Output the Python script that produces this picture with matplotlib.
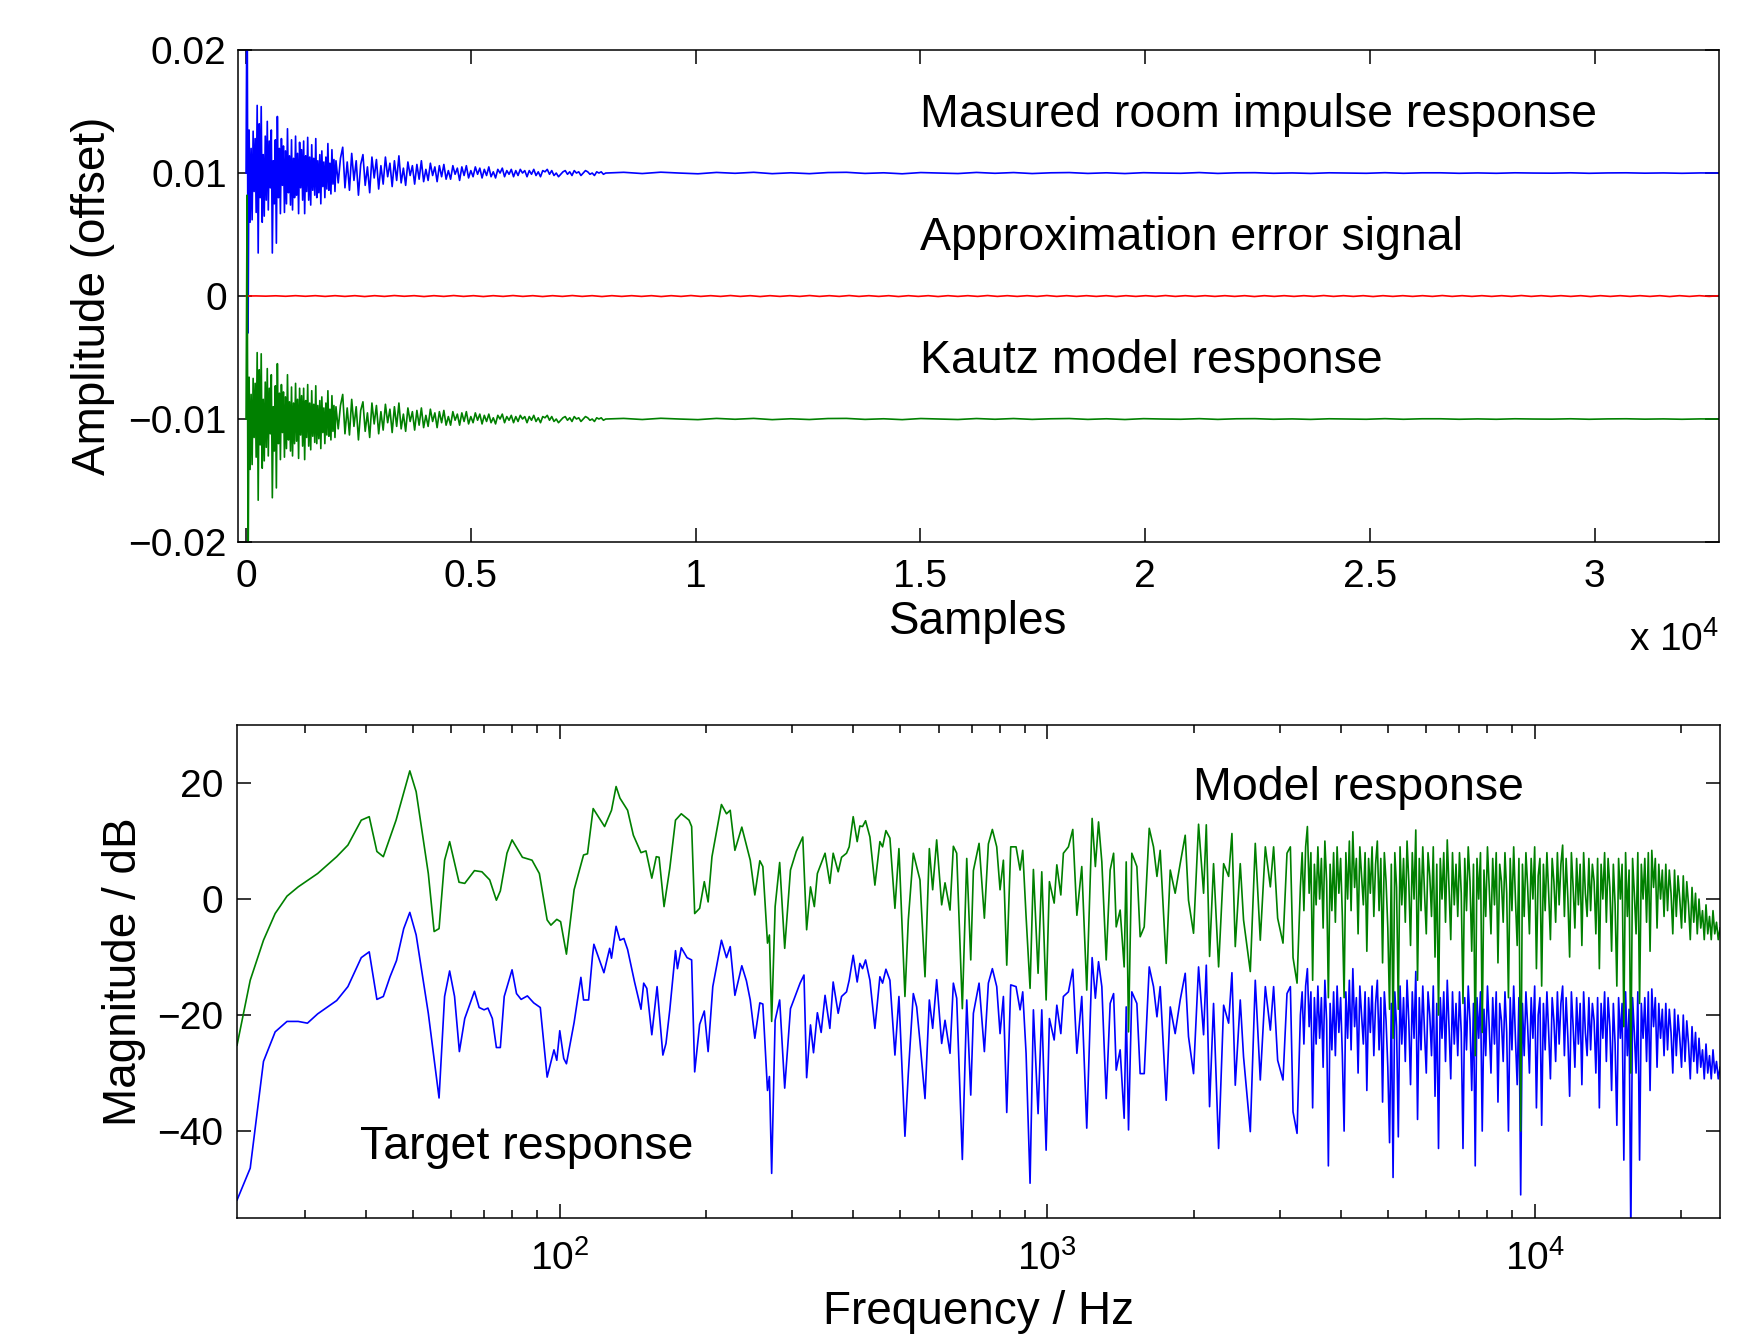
"""
Room impulse response vs. Kautz model: time signals (offset) and magnitude responses.
"""
import numpy as np
import matplotlib
matplotlib.use("Agg")
import matplotlib.pyplot as plt
from matplotlib.ticker import FuncFormatter, LogLocator, NullFormatter

plt.rcParams["font.family"] = ["Liberation Sans", "DejaVu Sans"]
plt.rcParams["mathtext.fontset"] = "custom"
plt.rcParams["mathtext.rm"] = "Liberation Sans"

BLUE, GREEN, RED = (0, 0, 1), (0, 0.5, 0), (1, 0, 0)
OFFSET = 0.01      # vertical offset of the two impulse responses
N_SAMPLES = 32768

# ── time domain (values in units of 1e-3) ──
# early part 0..2000 samples, mid 2000..8000, tail 8000..end
meas_early = [0, 18.2, -13.0, 3.5, -4.0, 2.0, -3.8, 3.4, -1.5, 2.8,
              -3.2, 5.5, -6.5, 4.0, -2.0, 5.4, -4.0, 1.5, -3.5, 3.0,
              -2.2, 4.2, -3.0, 2.6, -1.2, 3.5, -6.5, 1.0, -2.5, 2.7,
              -5.7, 4.6, -2.0, 2.0, -3.3, 2.8, -1.0, 2.2, -3.2, 1.8,
              -2.5, 3.6, -1.6, 1.4, -2.6, 2.7, -3.0, 1.2, -2.0, 3.0,
              -1.8, 1.6, -3.3, 2.5, -1.2, 1.9, -2.2, 2.6, -3.3, 1.4,
              -1.5, 2.9, -2.2, 1.3, -2.6, 2.3, -1.4, 1.2, -1.8, 2.8,
              -2.0, 1.0, -1.6, 1.5, -2.5, 1.8, -1.1, 0.9, -2.0, 1.3,
              -1.3, 2.4, -1.4, 0.8, -1.7, 1.9, -0.9, 1.1, -1.5, 1.0]
meas_mid = [-0.8, 1.2, 2.1, -1.2, 0.9, -1.4, 1.6, -0.6, 1.0, -1.8,
            0.7, 1.5, -1.0, 0.5, -1.6, 1.3, -0.4, 1.1, -1.3, 0.6,
            -0.9, 1.3, -0.3, 0.8, -1.1, 1.0, -0.6, 1.4, -0.8, 0.4,
            -1.0, 0.9, -0.2, 0.6, -0.9, 0.7, -0.5, 1.0, -0.7, 0.3,
            -0.6, 0.8, -0.2, 0.5, -0.7, 0.6, -0.3, 0.7, -0.5, 0.2,
            -0.5, 0.6, -0.1, 0.4, -0.6, 0.5, -0.2, 0.6, -0.4, 0.2,
            -0.3, 0.5, -0.1, 0.4, -0.4, 0.3, -0.2, 0.5, -0.3, 0.1,
            -0.4, 0.3, 0.0, 0.4, -0.3, 0.2, -0.1, 0.3, -0.3, 0.2,
            -0.2, 0.3, 0.0, 0.2, -0.3, 0.2, -0.1, 0.3, -0.2, 0.1,
            -0.3, 0.2, 0.1, 0.3, -0.1, 0.2, -0.2, 0.0, -0.3, -0.1,
            0.1, 0.2, -0.1, 0.1, -0.2, 0.2, 0.0, 0.1, -0.2, 0.0,
            0.2, 0.1, -0.1, 0.0, -0.2, 0.1, 0.0, 0.1, -0.1, 0.0]
meas_tail = [0.06, -0.04, 0.07, 0.0, -0.06, 0.05, -0.02, 0.06, -0.05, 0.02,
             -0.05, 0.04, 0.06, -0.03, 0.02, -0.06, 0.04, 0.0, -0.04, 0.05,
             -0.02, 0.04, -0.04, 0.02, 0.04, -0.03, 0.02, -0.04, 0.03, 0.0,
             -0.02, 0.04, -0.03, 0.02, 0.03, -0.02, 0.01, -0.03, 0.02, 0.0,
             -0.02, 0.03, -0.02, 0.02, 0.02, -0.02, 0.01, -0.02, 0.02, 0.0,
             -0.01, 0.02, -0.02, 0.01, 0.02, -0.01, 0.01, -0.02, 0.01, 0.0]

kautz_early = [0, 18.2, -13.0, 3.4, -4.1, 2.0, -3.7, 3.3, -1.5, 2.9,
               -3.1, 5.4, -6.6, 4.0, -2.1, 5.3, -4.0, 1.6, -3.4, 3.0,
               -2.3, 4.1, -3.0, 2.5, -1.2, 3.6, -6.4, 1.0, -2.6, 2.7,
               -5.6, 4.5, -2.0, 2.1, -3.3, 2.8, -1.1, 2.2, -3.1, 1.8,
               -2.4, 3.6, -1.7, 1.4, -2.6, 2.6, -3.0, 1.3, -2.0, 2.9,
               -1.8, 1.6, -3.2, 2.5, -1.3, 1.9, -2.2, 2.5, -3.3, 1.5,
               -1.5, 2.8, -2.2, 1.3, -2.5, 2.3, -1.4, 1.2, -1.9, 2.7,
               -2.0, 1.1, -1.6, 1.5, -2.4, 1.8, -1.1, 0.9, -2.0, 1.3,
               -1.3, 2.3, -1.4, 0.8, -1.7, 1.9, -1.0, 1.1, -1.5, 1.0]
kautz_mid = [-0.8, 1.1, 2.0, -1.2, 0.9, -1.3, 1.6, -0.6, 1.0, -1.7,
             0.7, 1.4, -1.0, 0.5, -1.5, 1.3, -0.4, 1.1, -1.2, 0.6,
             -0.9, 1.2, -0.3, 0.8, -1.1, 1.0, -0.6, 1.3, -0.8, 0.4,
             -1.0, 0.9, -0.2, 0.6, -0.9, 0.7, -0.5, 0.9, -0.7, 0.3,
             -0.6, 0.8, -0.2, 0.5, -0.7, 0.6, -0.3, 0.7, -0.5, 0.2,
             -0.5, 0.6, -0.1, 0.4, -0.5, 0.5, -0.2, 0.6, -0.4, 0.2,
             -0.3, 0.5, -0.1, 0.4, -0.4, 0.3, -0.2, 0.4, -0.3, 0.1,
             -0.4, 0.3, 0.0, 0.4, -0.3, 0.2, -0.1, 0.3, -0.3, 0.2,
             -0.2, 0.3, 0.0, 0.2, -0.3, 0.2, -0.1, 0.3, -0.2, 0.1,
             -0.3, 0.2, 0.1, 0.3, -0.1, 0.2, -0.2, 0.0, -0.3, -0.1,
             0.1, 0.2, -0.1, 0.1, -0.2, 0.2, 0.0, 0.1, -0.2, 0.0,
             0.2, 0.1, -0.1, 0.0, -0.2, 0.1, 0.0, 0.1, -0.1, 0.0]
kautz_tail = [0.05, -0.04, 0.06, 0.0, -0.05, 0.05, -0.02, 0.05, -0.05, 0.02,
              -0.04, 0.04, 0.05, -0.03, 0.02, -0.05, 0.04, 0.0, -0.04, 0.04,
              -0.02, 0.04, -0.03, 0.02, 0.04, -0.03, 0.02, -0.04, 0.03, 0.0,
              -0.02, 0.03, -0.03, 0.02, 0.03, -0.02, 0.01, -0.03, 0.02, 0.0,
              -0.02, 0.03, -0.02, 0.02, 0.02, -0.02, 0.01, -0.02, 0.02, 0.0,
              -0.01, 0.02, -0.02, 0.01, 0.02, -0.01, 0.01, -0.02, 0.01, 0.0]

error_sig = [0, 0.01, -0.01, 0.02, -0.02, 0.03, -0.02, 0.03, -0.03, 0.03,
             -0.03, 0.03, -0.04, 0.03, -0.03, 0.04, -0.02, 0.03, -0.04, 0.03,
             -0.03, 0.04, -0.03, 0.03, -0.04, 0.03, -0.03, 0.04, -0.03, 0.03,
             -0.04, 0.03, -0.03, 0.04, -0.03, 0.03, -0.04, 0.03, -0.03, 0.03,
             -0.03, 0.03, -0.04, 0.03, -0.03, 0.04, -0.03, 0.03, -0.03, 0.04,
             -0.03, 0.03, -0.04, 0.03, -0.03, 0.03, -0.03, 0.04, -0.03, 0.03,
             -0.03, 0.04, -0.03, 0.03, -0.03, 0.03, -0.04, 0.03, -0.03, 0.03,
             -0.04, 0.03, -0.03, 0.03, -0.03, 0.04, -0.03, 0.03, -0.03, 0.03,
             -0.03, 0.04, -0.03, 0.03, -0.03, 0.03, -0.03, 0.03, -0.04, 0.03,
             -0.03, 0.03, -0.03, 0.04, -0.03, 0.03, -0.03, 0.03, -0.03, 0.03,
             -0.03, 0.03, -0.04, 0.03, -0.03, 0.03, -0.03, 0.03, -0.03, 0.04,
             -0.03, 0.03, -0.03, 0.03, -0.04, 0.03, -0.03, 0.03, -0.03, 0.03,
             -0.03, 0.04, -0.03, 0.03, -0.03, 0.03, -0.03, 0.03, -0.03, 0.04,
             -0.03, 0.03, -0.03, 0.03, -0.03, 0.03, -0.04, 0.03, -0.03, 0.03,
             -0.03, 0.03, -0.03, 0.03, -0.04, 0.03, -0.03, 0.03, -0.03, 0.03]

# ── frequency domain (dB) ──
model_freq = [21.8, 23.2, 24.7, 26.1, 27.6, 29.1, 31.9, 34.9, 36.8, 39.2,
              40.7, 42.2, 43.5, 46.2, 49.3, 50.8, 53.8, 55.3, 56.6, 58.1,
              59.5, 62.2, 63.9, 66.9, 69.3, 71.9, 74.2, 75.6, 78.0, 79.9,
              83.9, 87.8, 90.9, 94.3, 96.0, 98.7, 100.5, 103.3, 107.1, 112.0,
              114.1, 117.2, 123.7, 127.8, 130.6, 133.0, 137.9, 141.7, 146.9, 150.4,
              154.6, 157.9, 160.0, 163.8, 168.3, 172.9, 177.7, 184.3, 186.6, 189.3,
              193.8, 198.1, 201.7, 205.4, 214.8, 220.0, 223.9, 228.9, 236.5, 246.1,
              251.5, 257.5, 261.2, 267.0, 269.4, 272.3, 276.8, 282.8, 289.6, 297.6,
              305.8, 315.4, 321.2, 327.1, 333.1, 337.9, 350.4]
model_db = [-25.2, -14.0, -7.1, -2.5, 0.5, 2.1, 4.4, 7.3, 9.3, 13.6,
            14.2, 8.2, 7.3, 13.6, 22.1, 18.5, 4.4, -5.6, -5.1, 6.7,
            9.9, 2.9, 2.7, 4.9, 4.7, 3.3, -0.2, 1.4, 7.9, 10.2,
            7.2, 6.7, 4.4, -3.6, -4.5, -3.5, -3.9, -9.5, 1.6, 7.6,
            7.8, 15.6, 12.5, 15.3, 19.4, 17.4, 15.3, 11.0, 8.0, 8.3,
            3.6, 7.3, 7.2, -1.3, 5.3, 13.6, 14.7, 13.6, 12.5, -2.5,
            -1.6, 3.0, -0.5, 7.3, 16.3, 14.7, 15.3, 8.4, 12.4, 6.7,
            0.7, 6.6, 5.6, -7.6, -6.2, -21.1, -1.3, 6.3, -8.5, 5.0,
            8.2, 10.7, -5.3, 2.1, -1.3, 4.4, 7.9]

target_freq = [21.8, 23.2, 24.7, 26.1, 27.6, 29.1, 30.4, 31.9, 34.9, 36.8,
               39.2, 40.7, 42.2, 43.5, 44.9, 46.3, 47.9, 49.3, 50.8, 53.8,
               56.6, 58.1, 59.5, 60.9, 62.3, 63.9, 66.9, 68.4, 70.0, 71.3,
               72.8, 74.2, 75.6, 77.0, 79.9, 81.6, 83.4, 85.9, 88.5, 91.3,
               94.3, 97.4, 98.7, 100.1, 102.0, 103.3, 107.1, 110.6, 112.0, 114.7,
               116.8, 117.6, 123.3, 126.7, 127.8, 130.6, 133.0, 135.5, 137.9, 142.5,
               146.9, 148.8, 151.0, 154.6, 158.5, 162.9, 165.3, 168.3, 172.9, 174.5,
               177.7, 182.6, 186.6, 189.3, 193.8, 198.1, 201.7, 206.2, 214.8, 220.0,
               223.9, 228.9, 236.5, 241.7, 246.1, 251.5, 257.5, 261.2, 267.0, 269.4,
               272.3, 276.8, 282.8, 289.6, 297.6, 311.4, 317.2, 321.2, 327.1, 331.8,
               337.9, 344.0, 350.4]
target_db = [-51.9, -46.4, -28.0, -22.9, -21.1, -21.1, -21.4, -19.8, -17.5, -15.1,
             -10.1, -9.1, -17.3, -16.8, -13.4, -10.6, -5.1, -2.3, -6.2, -19.7,
             -34.3, -16.8, -12.4, -16.8, -26.3, -20.6, -15.9, -18.7, -19.1, -18.8,
             -20.6, -25.6, -25.6, -16.8, -12.2, -16.3, -17.3, -16.7, -17.9, -18.7,
             -30.7, -26.0, -27.8, -22.7, -27.5, -28.4, -21.3, -13.5, -17.4, -17.4,
             -9.9, -7.8, -12.7, -8.5, -10.2, -4.7, -7.1, -6.8, -8.7, -14.3,
             -19.0, -14.5, -15.4, -23.4, -15.1, -26.9, -24.9, -19.1, -8.9, -12.0,
             -8.4, -10.1, -10.5, -29.8, -21.6, -19.3, -26.3, -15.1, -7.1, -10.1,
             -8.2, -16.6, -11.5, -14.1, -17.4, -24.0, -17.9, -18.1, -33.0, -30.6,
             -47.3, -20.9, -17.4, -32.6, -18.9, -14.5, -13.1, -30.8, -21.7, -26.5,
             -19.6, -23.0, -16.6]

# 358 Hz .. 3.3 kHz, same frequency points for both curves
mid_freq = [358.4, 364.1, 372.8, 378.8, 387.8, 392.7, 400.2, 407.8, 413.0, 418.3,
            424.3, 433.1, 443.4, 454.0, 459.8, 467.1, 476.0, 487.4, 496.7, 511.0,
            519.2, 531.6, 540.1, 548.6, 561.8, 573.4, 582.5, 593.6, 607.8, 617.5,
            632.2, 642.3, 652.5, 670.1, 684.2, 697.3, 706.0, 725.2, 743.6, 757.8,
            772.2, 788.3, 800.8, 813.5, 826.5, 842.2, 863.6, 880.2, 891.3, 905.5,
            922.7, 937.4, 958.3, 975.2, 995.4, 1011, 1034, 1047, 1067, 1080,
            1106, 1129, 1151, 1178, 1206, 1237, 1256, 1275, 1295, 1322,
            1347, 1369, 1386, 1412, 1439, 1453, 1469, 1492, 1528, 1552,
            1582, 1620, 1653, 1680, 1706, 1755, 1789, 1831, 1875, 1920,
            1950, 1997, 2045, 2094, 2121, 2154, 2195, 2248, 2302, 2357,
            2394, 2432, 2490, 2529, 2611, 2673, 2737, 2803, 2870, 2915,
            2971, 3047, 3105, 3155, 3195, 3256]
model_mid_db = [2.7, 7.9, 4.7, 7.2, 7.9, 9.0, 14.2, 9.9, 12.6, 12.5,
                13.5, 10.7, 2.4, 9.9, 9.0, 11.8, 10.5, -1.6, 8.7, -16.8,
                -3.6, 7.9, 5.6, 3.3, -13.4, 8.7, 1.6, 10.2, -1.0, 2.8,
                -1.9, 9.1, 7.9, -18.9, 7.0, -10.5, 4.9, 9.6, -3.3, 9.5,
                12.0, 9.0, 1.6, 6.7, -11.4, 9.0, 9.0, 5.0, 8.4, -3.0,
                -15.4, 5.1, -12.8, 4.7, -17.4, 3.0, -0.7, 5.9, 0.7, 7.9,
                9.0, 12.0, -2.8, 5.6, -15.7, 13.9, 5.6, 13.3, 6.4, -10.5,
                5.0, 7.9, -4.8, -1.9, -11.7, 6.4, -22.9, 7.9, 5.6, -6.5,
                -4.8, 12.2, 9.0, 3.9, 8.4, -11.1, 5.0, 1.0, 6.1, 11.0,
                -0.2, -5.9, 12.9, 1.0, 12.8, -9.9, 6.1, -11.7, 6.1, 3.9,
                11.3, -8.2, 6.1, -3.6, -12.5, 9.6, -7.1, 9.0, 2.1, 9.0,
                -3.3, -7.6, 7.9, 9.0, -10.1, -14.5]
target_mid_db = [-22.3, -14.3, -19.7, -16.8, -16.0, -14.0, -9.7, -14.3, -11.1, -12.0,
                 -10.5, -14.0, -22.3, -13.4, -14.5, -12.1, -14.0, -26.9, -16.8, -40.9,
                 -30.1, -16.3, -18.6, -24.6, -34.4, -17.4, -22.3, -13.9, -24.9, -20.9,
                 -26.6, -14.5, -17.1, -44.9, -17.4, -33.8, -19.7, -14.5, -26.3, -14.5,
                 -12.0, -15.1, -23.2, -16.8, -36.8, -14.8, -15.1, -19.1, -16.0, -26.6,
                 -49.0, -19.1, -37.0, -19.1, -43.3, -20.6, -24.3, -18.3, -23.2, -16.8,
                 -16.0, -12.1, -26.6, -16.8, -39.5, -10.1, -17.1, -10.8, -15.1, -34.4,
                 -18.0, -16.3, -29.5, -26.0, -37.8, -18.6, -39.8, -16.0, -18.0, -30.1,
                 -30.1, -11.7, -15.1, -20.3, -15.1, -34.7, -18.6, -23.2, -17.4, -12.8,
                 -23.7, -30.1, -11.7, -23.4, -11.4, -35.8, -18.0, -43.0, -18.3, -21.4,
                 -12.7, -32.1, -17.4, -27.2, -40.1, -14.0, -31.2, -15.1, -22.6, -15.1,
                 -27.8, -31.2, -16.3, -15.1, -36.7, -40.4]

# 3.3 kHz .. 24 kHz, dense part (log-spaced bins)
model_hf_db = [2.1, 8, -2, 9, 12.5, 1, 8, -14, 6, -1,
               9, 0, 7, -5, 10, 3, -17, 6, -2, 8,
               -4, 9, 1, 7, -3, -17, 8, 0, 10, -2,
               11.6, 2, 7, -6, 9, 4, -1, 8, -9, 7,
               1, 9, -3, 6, 10, -2, 7, -11, 8, 3,
               -5, -19, 6, -24, 8, 2, -19, 9, -1, 7,
               -4, 10, 3, -8, 8, 0, 11.9, -14, 7, -2,
               9, 1, -6, 8, 4, -3, 9, -10, 6, -20,
               7, 0, 8, -4, 10.2, 2, -7, 8, -1, 6,
               -3, 8, 1, -18, 7, -2, 9, 3, -9, 6,
               -27, 7, 0, 8, -23, 5, -3, 9, 2, -6,
               7, -1, 8, -11, 6, 3, -4, 8, 1, -17,
               7, -2, 9, 0, -8, 7, -40, 6, -3, 8,
               2, -6, 7, 0, 9, -12, 4, 7, -15, 6,
               -2, 8, 1, -7, 7, 3, -4, 8, -1, 6,
               9.3, -3, 7, 0, -10, 8, 2, -5, 7, -1,
               6, -8, 8, 1, -3, 7, -2, 6, 3, -6,
               7, -12, 6, 0, 8, -4, 7, 2, -9, 6,
               -1, -15, 7, 0, 6, -22, 8, -3, 5, -30,
               7, 1, -6, 8, -18, 6, 0, 7, -4, 8,
               -9, 8.4, 2, 7, -5, 6, 0, 5, -3, 6,
               -2, 5, 1, -6, 5, -3, 4, 0, -5, 4,
               -4, 3, -1, -7, 2, -4, 1, -6, 0, -5,
               -2, -7, -1, -6, -3, -7, -2, -6, -4, -7,
               -5]
target_hf_db = [-20, -16, -25, -15, -12, -22, -16, -36, -17, -25,
                -15, -24, -17, -29, -14, -21, -46, -18, -26, -16,
                -27, -15, -23, -17, -27, -40, -16, -24, -14, -26,
                -12, -22, -17, -30, -15, -20, -25, -16, -33, -17,
                -23, -15, -27, -18, -14, -26, -17, -35, -16, -21,
                -29, -42, -18, -48, -16, -22, -41, -15, -25, -17,
                -28, -14, -21, -32, -16, -24, -12.5, -38, -17, -26,
                -15, -23, -30, -16, -20, -27, -15, -34, -18, -43,
                -17, -24, -16, -28, -14, -22, -31, -16, -25, -18,
                -27, -16, -23, -43, -17, -26, -15, -21, -33, -18,
                -46, -17, -24, -16, -40, -19, -27, -15, -22, -30,
                -17, -25, -16, -35, -18, -21, -28, -16, -23, -40,
                -17, -26, -15, -24, -32, -17, -51, -18, -27, -16,
                -22, -30, -17, -24, -15, -36, -20, -17, -39, -18,
                -26, -16, -23, -31, -17, -21, -28, -16, -25, -18,
                -15, -27, -17, -24, -34, -16, -22, -29, -17, -25,
                -18, -32, -16, -23, -27, -17, -26, -18, -21, -30,
                -17, -36, -18, -24, -16, -28, -17, -22, -33, -18,
                -25, -39, -17, -24, -18, -45, -16, -27, -19, -58,
                -17, -23, -30, -16, -45, -18, -24, -17, -28, -16,
                -33, -15.5, -22, -17, -29, -18, -24, -19, -27, -18,
                -26, -19, -23, -30, -19, -27, -20, -24, -29, -20,
                -28, -21, -25, -31, -22, -28, -23, -30, -24, -29,
                -26, -31, -25, -30, -27, -31, -26, -30, -28, -31,
                -29]
HF_START, HF_STOP = 3308, 24000


def sample_axis(early, mid, tail):
    return np.concatenate([np.linspace(0, 2000, len(early)),
                           np.linspace(2050, 8000, len(mid)),
                           np.linspace(8400, N_SAMPLES, len(tail))])


def style(ax, labelsize=28):
    ax.tick_params(which="both", direction="in", top=True, right=True,
                   width=1.1, labelsize=labelsize, colors="k")
    ax.tick_params(which="major", length=10)
    ax.tick_params(which="minor", length=5.5)
    for s in ax.spines.values():
        s.set_linewidth(1.1)


fig = plt.figure(figsize=(17.65, 13.35), dpi=100)

# ── top: impulse responses ──
ax1 = fig.add_axes([0.1347, 0.594, 0.8393, 0.3685])
t = sample_axis(meas_early, meas_mid, meas_tail)
meas = np.concatenate([meas_early, meas_mid, meas_tail]) * 1e-3
kautz = np.concatenate([kautz_early, kautz_mid, kautz_tail]) * 1e-3
t_err = np.linspace(0, N_SAMPLES, len(error_sig))
ax1.plot(t, meas + OFFSET, color=BLUE, lw=1.2)
ax1.plot(t_err, np.array(error_sig) * 1e-3, color=RED, lw=1.2)
ax1.plot(t, kautz - OFFSET, color=GREEN, lw=1.2)
ax1.set_xlim(-185, N_SAMPLES)
ax1.set_ylim(-0.02, 0.02)
ax1.set_yticks([-0.02, -0.01, 0, 0.01, 0.02])
ax1.yaxis.set_major_formatter(FuncFormatter(lambda v, p: f"{v:g}".replace("-", "\u2212")))
ax1.set_xticks(np.arange(0, 30001, 5000))
ax1.xaxis.set_major_formatter(FuncFormatter(lambda v, p: f"{v / 1e4:g}"))
style(ax1)
ax1.tick_params(axis="x", pad=12)
ax1.tick_params(axis="y", pad=8)
ax1.set_xlabel("Samples", fontsize=33)
ax1.xaxis.label.set_va("center")
ax1.xaxis.set_label_coords(0.5, -0.163)
ax1.set_ylabel("Amplitude (offset)", fontsize=33)
ax1.yaxis.label.set_va("center")
ax1.yaxis.set_label_coords(-0.098, 0.5)
ax1.text(1.0, -0.2, "x 10$^4$", transform=ax1.transAxes, ha="right", va="center", fontsize=28)
for y, s in [(0.0147, "Masured room impulse response"),
             (0.0047, "Approximation error signal"),
             (-0.0053, "Kautz model response")]:
    ax1.text(15000, y, s, fontsize=33.5, ha="left", va="center")

# ── bottom: magnitude responses ──
ax2 = fig.add_axes([0.1343, 0.0876, 0.8402, 0.3693])
f_hf = np.geomspace(HF_START, HF_STOP, len(model_hf_db))
f_target = np.concatenate([target_freq, mid_freq, f_hf])
f_model = np.concatenate([model_freq, mid_freq, f_hf])
ax2.semilogx(f_target, np.concatenate([target_db, target_mid_db, target_hf_db]), color=BLUE, lw=1.2)
ax2.semilogx(f_model, np.concatenate([model_db, model_mid_db, model_hf_db]), color=GREEN, lw=1.2)
ax2.set_xlim(21.8, 24000)
ax2.set_ylim(-55, 30)
ax2.set_yticks([-40, -20, 0, 20])
ax2.xaxis.set_major_locator(LogLocator(base=10, numticks=10))
ax2.xaxis.set_minor_locator(LogLocator(base=10, subs=np.arange(2, 10), numticks=20))
ax2.xaxis.set_minor_formatter(NullFormatter())
style(ax2)
ax2.tick_params(axis="x", pad=16)
ax2.tick_params(axis="y", pad=10)
ax2.set_xlabel("Frequency / Hz", fontsize=33)
ax2.xaxis.label.set_va("center")
ax2.xaxis.set_label_coords(0.5, -0.19)
ax2.set_ylabel("Magnitude / dB", fontsize=33)
ax2.yaxis.label.set_va("center")
ax2.yaxis.set_label_coords(-0.076, 0.5)
ax2.text(1990, 19.2, "Model response", fontsize=33.5, ha="left", va="center")
ax2.text(39, -42.8, "Target response", fontsize=33.5, ha="left", va="center")

fig.savefig("out.png", dpi=100)
